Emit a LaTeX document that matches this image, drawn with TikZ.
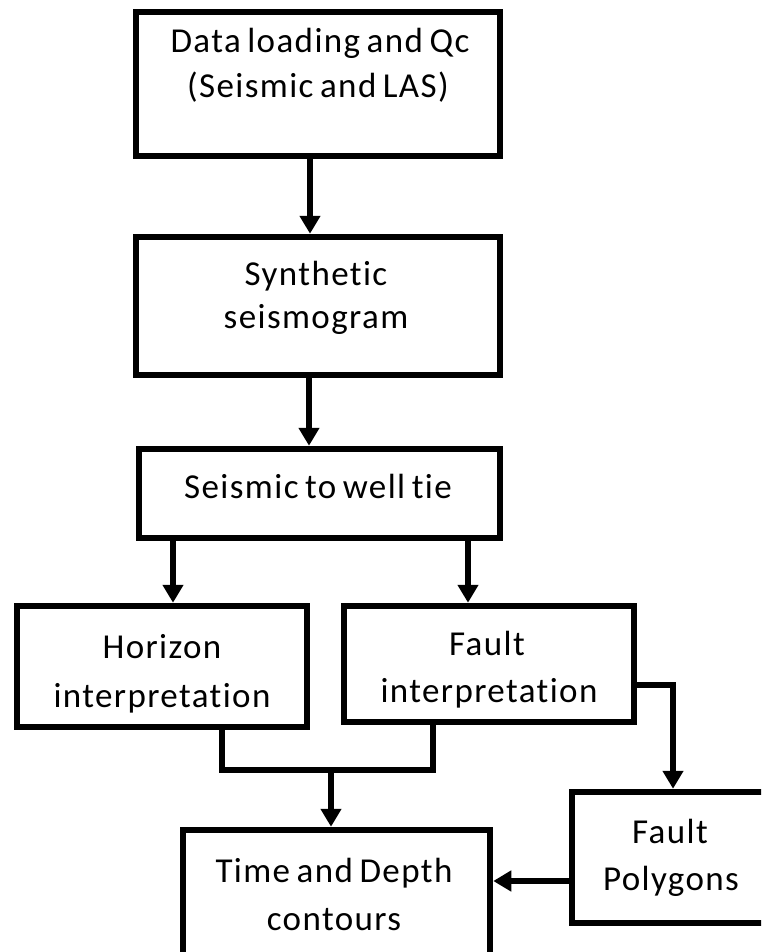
\documentclass[tikz,border=0pt]{standalone}
\usepackage{fontspec}
\setmainfont{Carlito}[Ligatures=CommonOff, LetterSpace=4, WordSpace=0.7]
\usetikzlibrary{arrows.meta}
\begin{document}
\begin{tikzpicture}[x=1pt, y=-1pt,
  box/.style={draw, line width=6.5pt, inner sep=0pt, line join=miter},
  lbl/.style={anchor=base, inner sep=0pt, font=\fontsize{35}{42}\selectfont},
  link/.style={line width=6.5pt, line join=miter},
  arr/.style={link, -{Triangle[width=20pt,length=18pt]}}]
\useasboundingbox (0,0) rectangle (761,952);
\clip (0,0) rectangle (761,952);

% process boxes
\node[box, minimum width=364pt, minimum height=144pt] (b1) at (318,84) {};
\node[box, minimum width=364pt, minimum height=138pt] (b2) at (318,306) {};
\node[box, minimum width=361pt, minimum height=89pt]  (b3) at (319.5,493.5) {};
\node[box, minimum width=290pt, minimum height=121pt] (b4) at (162,666.5) {};
\node[box, minimum width=290pt, minimum height=116pt] (b5) at (489,664) {};
\node[box, minimum width=307pt, minimum height=130pt] (b6) at (336.5,895) {};
\node[box, minimum width=198pt, minimum height=131pt] (b7) at (671,857.5) {};

% box texts
\node[lbl] (t1a) at (320,53)  {Data loading and Qc};
\node[lbl] (t1b) at (318,98)  {(Seismic and LAS)};
\node[lbl] (t2a) at (316,285) {Synthetic};
\node[lbl] (t2b) at (316,328) {seismogram};
\node[lbl] (t3)  at (318,498) {Seismic to well tie};
\node[lbl] (t4a) at (162,658) {Horizon};
\node[lbl] (t4b) at (162,707) {interpretation};
\node[lbl] (t5a) at (487,655) {Fault};
\node[lbl] (t5b) at (489,702) {interpretation};
\node[lbl] (t6a) at (334,882) {Time and Depth};
\node[lbl] (t6b) at (334,930) {contours};
\node[lbl] (t7a) at (670,843) {Fault};
\node[lbl] (t7b) at (671,890) {Polygons};

% connector waypoints
\coordinate (c12) at (310,0);
\coordinate (c23) at (309,0);
\coordinate (c34) at (173,0);
\coordinate (c35) at (468,0);
\coordinate (hl) at (222,770);
\coordinate (hr) at (433,770);
\coordinate (j)  at (331,770);
\coordinate (k)  at (673,685);
\coordinate (m)  at (0,881);

% connectors
\draw[arr] (c12 |- b1.south) -- (c12 |- b2.north);
\draw[arr] (c23 |- b2.south) -- (c23 |- b3.north);
\draw[arr] (c34 |- b3.south) -- (c34 |- b4.north);
\draw[arr] (c35 |- b3.south) -- (c35 |- b5.north);
\draw[link] (hl |- b4.south) -- (hl) -- (hr) -- (hr |- b5.south);
\draw[arr] (j) -- (j |- b6.north);
\draw[arr] (k -| b5.east) -| (k |- b7.north);
\draw[arr] (m -| b7.west) -- (m -| b6.east);
\end{tikzpicture}
\end{document}
